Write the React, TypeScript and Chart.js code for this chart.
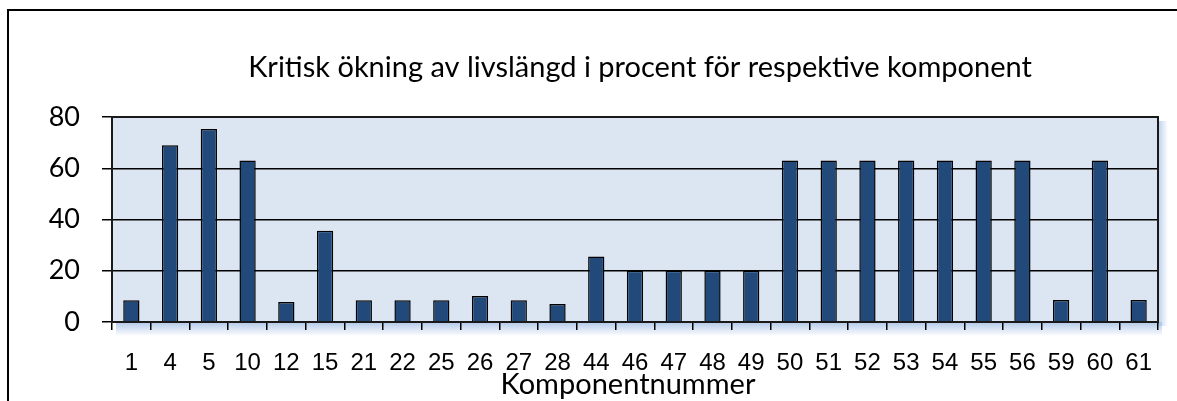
import React, { useEffect, useRef } from "react";
import { Chart, registerables } from "chart.js";

Chart.register(...registerables);

const categories = ["1","4","5","10","12","15","21","22","25","26","27","28","44","46","47","48","49","50","51","52","53","54","55","56","59","60","61"];
const values = [8.5,69,75.3,63,7.8,35.6,8.5,8.5,8.5,10.1,8.5,7,25.6,20,20,20,20,63,63,63,63,63,63,63,8.6,63,8.6];
const yTicks = [0, 20, 40, 60, 80];
const titleText = "Kritisk ökning av livslängd i procent för respektive komponent";
const xAxisTitle = "Komponentnummer";

const decorPlugin = {
  id: "decor",
  beforeDraw(chart: any) {
    const { ctx, chartArea: a } = chart;
    ctx.save();
    const g = ctx.createLinearGradient(0, a.bottom, 0, a.bottom + 14);
    g.addColorStop(0, "rgba(170,195,230,0.9)");
    g.addColorStop(1, "rgba(170,195,230,0)");
    ctx.fillStyle = g;
    ctx.fillRect(a.left + 4, a.bottom, a.right - a.left, 14);
    const g2 = ctx.createLinearGradient(a.right, 0, a.right + 10, 0);
    g2.addColorStop(0, "rgba(170,195,230,0.8)");
    g2.addColorStop(1, "rgba(170,195,230,0)");
    ctx.fillStyle = g2;
    ctx.fillRect(a.right, a.top + 4, 10, a.bottom - a.top);
    ctx.fillStyle = "#DCE6F2";
    ctx.fillRect(a.left, a.top, a.right - a.left, a.bottom - a.top);
    ctx.restore();
  },
  afterDraw(chart: any) {
    const { ctx, chartArea: a } = chart;
    ctx.save();
    ctx.strokeStyle = "#1a1a1a";
    ctx.lineWidth = 2;
    ctx.strokeRect(a.left, a.top, a.right - a.left, a.bottom - a.top);
    ctx.fillStyle = "#000";
    ctx.textAlign = "center";
    ctx.textBaseline = "middle";
    ctx.font = "29px Lato";
    ctx.fillText(titleText, 640, 68);
    ctx.font = "29px Lato";
    ctx.fillText(xAxisTitle, 628, 385);
    ctx.restore();
  },
};

export default function App() {
  const ref = useRef<HTMLCanvasElement>(null);
  useEffect(() => {
    const chart = new Chart(ref.current!, {
      type: "bar",
      data: {
        labels: categories,
        datasets: [
          {
            data: values,
            backgroundColor: "#214A7B",
            borderColor: "#000",
            borderWidth: 1.5,
            barPercentage: 0.42,
            categoryPercentage: 1,
          },
        ],
      },
      plugins: [decorPlugin],
      options: {
        animation: false,
        responsive: false,
        maintainAspectRatio: false,
        layout: { padding: { left: 0, right: 19, top: 117, bottom: 0 } },
        plugins: { legend: { display: false }, title: { display: false }, tooltip: { enabled: false } },
        scales: {
          x: {
            afterFit: (s: any) => { s.height = 79; },
            grid: { drawOnChartArea: false, drawTicks: true, tickLength: 8, color: "#000", lineWidth: 1.5 },
            border: { display: true, color: "#000", width: 2 },
            ticks: { color: "#000", padding: 19, font: { family: "'Liberation Sans', Arial, sans-serif", size: 24 }, autoSkip: false, maxRotation: 0, minRotation: 0 },
          },
          y: {
            min: 0,
            max: 80,
            afterFit: (s: any) => { s.width = 112; },
            afterBuildTicks: (s: any) => { s.ticks = yTicks.map((v) => ({ value: v })); },
            grid: { color: "#000", lineWidth: 1.5, drawTicks: true, tickLength: 10 },
            border: { display: true, color: "#000", width: 2 },
            ticks: { color: "#000", padding: 22, font: { family: "Lato", size: 27 } },
          },
        },
      },
    });
    return () => chart.destroy();
  }, []);
  return (
    <div style={{ position: "fixed", left: 0, top: 0, width: 1177, height: 401, background: "#fff" }}>
      <div style={{ position: "absolute", left: 7, top: 9, width: 1200, height: 420, borderLeft: "2px solid #000", borderTop: "2px solid #000" }} />
      <canvas ref={ref} width={1177} height={401} style={{ position: "absolute", left: 0, top: 0 }} />
    </div>
  );
}
